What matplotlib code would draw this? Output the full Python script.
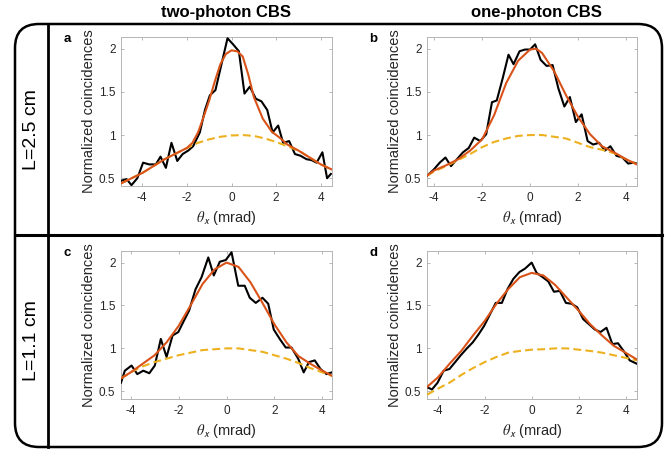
import matplotlib
matplotlib.use("Agg")
import matplotlib.pyplot as plt
from matplotlib.patches import FancyBboxPatch

plt.rcParams['font.family'] = ['Liberation Sans', 'DejaVu Sans']
plt.rcParams['mathtext.fontset'] = 'stix'

# colours (MATLAB default order)
BLACK = 'black'
ORANGE = '#D95319'
YELLOW = '#EDB120'

# ---- panel a: two-photon CBS, L=2.5 cm ----
x_a = [-4.95, -4.70, -4.48, -4.22, -3.96, -3.69, -3.39, -3.18, -2.94, -2.69,
       -2.43, -2.19, -1.94, -1.72, -1.42, -1.19, -0.97, -0.72, -0.45, -0.18,
       0.07, 0.33, 0.58, 0.82, 1.09, 1.34, 1.60, 1.84, 2.09, 2.31,
       2.58, 2.84, 3.09, 3.36, 3.58, 3.81, 4.07, 4.28, 4.45]
y_a = [0.47, 0.49, 0.42, 0.50, 0.68, 0.66, 0.66, 0.75, 0.62, 0.91,
       0.70, 0.78, 0.82, 0.87, 1.03, 1.29, 1.46, 1.52, 1.82, 2.12,
       2.05, 1.97, 1.48, 1.56, 1.42, 1.39, 1.29, 1.03, 1.11, 0.91,
       0.93, 0.78, 0.76, 0.72, 0.71, 0.68, 0.80, 0.50, 0.55]
fx_a = [-4.95, -4.0, -3.0, -2.0, -1.75, -1.5, -1.25, -1.0, -0.75, -0.5, -0.25,
        0.0, 0.25, 0.5, 0.75, 1.0, 1.4, 1.8, 2.2, 2.5, 3.0, 3.5, 4.0, 4.5]
fit_a = [0.44, 0.56, 0.72, 0.85, 0.91, 1.03, 1.21, 1.40, 1.62, 1.82, 1.94,
         1.98, 1.97, 1.91, 1.70, 1.44, 1.19, 1.04, 0.96, 0.89, 0.82, 0.74, 0.66, 0.60]
bx_a = [-4.95, -4.0, -3.0, -2.0, -1.5, -1.0, -0.5, 0.0, 0.5, 1.0, 1.5, 2.0,
        2.5, 3.0, 3.5, 4.0, 4.5]
bg_a = [0.44, 0.56, 0.72, 0.85, 0.91, 0.95, 0.98, 0.995, 1.0, 0.99, 0.96, 0.92,
        0.87, 0.82, 0.74, 0.66, 0.60]

# ---- panel b: one-photon CBS, L=2.5 cm ----
x_b = [-4.29, -4.02, -3.77, -3.53, -3.30, -3.05, -2.80, -2.56, -2.33, -2.08,
       -1.83, -1.59, -1.39, -1.14, -0.90, -0.69, -0.44, -0.21, 0.00, 0.21,
       0.44, 0.69, 0.94, 1.18, 1.43, 1.66, 1.91, 2.15, 2.40, 2.63,
       2.88, 3.12, 3.35, 3.60, 3.85, 4.09, 4.32, 4.46]
y_b = [0.53, 0.60, 0.68, 0.74, 0.64, 0.72, 0.80, 0.85, 0.97, 0.93,
       1.01, 1.38, 1.40, 1.66, 1.93, 1.82, 1.97, 1.99, 1.99, 2.05,
       1.87, 1.80, 1.81, 1.54, 1.33, 1.44, 1.15, 1.24, 0.93, 0.89,
       0.91, 0.82, 0.87, 0.76, 0.74, 0.67, 0.68, 0.67]
fx_b = [-4.3, -4.0, -3.5, -3.0, -2.5, -2.0, -1.5, -1.0, -0.5, 0.0, 0.25, 0.5,
        1.0, 1.5, 2.0, 2.5, 3.0, 3.5, 4.0, 4.46]
fit_b = [0.53, 0.59, 0.65, 0.72, 0.82, 0.95, 1.23, 1.60, 1.86, 1.99, 2.00, 1.95,
         1.74, 1.46, 1.21, 1.01, 0.87, 0.80, 0.72, 0.66]
bx_b = [-4.3, -4.0, -3.5, -3.0, -2.5, -2.0, -1.5, -1.0, -0.5, 0.0, 0.5, 1.0,
        1.5, 2.0, 2.5, 3.0, 3.5, 4.0, 4.46]
bg_b = [0.53, 0.58, 0.64, 0.71, 0.78, 0.86, 0.92, 0.96, 0.99, 1.0, 1.0, 0.98,
        0.96, 0.91, 0.86, 0.83, 0.79, 0.72, 0.66]

# ---- panel c: two-photon CBS, L=1.1 cm ----
x_c = [-4.40, -4.24, -3.96, -3.72, -3.47, -3.22, -2.99, -2.74, -2.50, -2.25,
       -2.01, -1.78, -1.56, -1.29, -1.04, -0.76, -0.53, -0.28, -0.03, 0.21,
       0.49, 0.76, 0.97, 1.22, 1.50, 1.74, 1.97, 2.22, 2.47, 2.71,
       2.99, 3.22, 3.44, 3.68, 3.92, 4.17, 4.39]
y_c = [0.60, 0.74, 0.80, 0.70, 0.74, 0.71, 0.80, 1.11, 0.90, 1.15,
       1.19, 1.32, 1.44, 1.69, 1.83, 2.06, 1.85, 2.01, 2.03, 2.12,
       1.73, 1.73, 1.59, 1.53, 1.59, 1.52, 1.22, 1.11, 1.01, 1.01,
       0.88, 0.72, 0.84, 0.86, 0.76, 0.70, 0.72]
fx_c = [-4.4, -4.0, -3.5, -3.0, -2.5, -2.0, -1.5, -1.0, -0.5, 0.0, 0.5, 1.0,
        1.5, 2.0, 2.5, 3.0, 3.5, 4.0, 4.4]
fit_c = [0.65, 0.72, 0.82, 0.92, 1.07, 1.26, 1.50, 1.75, 1.92, 2.00, 1.95, 1.77,
         1.53, 1.28, 1.07, 0.91, 0.82, 0.74, 0.68]
bx_c = fx_c
bg_c = [0.65, 0.72, 0.79, 0.84, 0.88, 0.92, 0.95, 0.98, 0.99, 1.0, 1.0, 0.98,
        0.96, 0.92, 0.88, 0.83, 0.77, 0.72, 0.68]

# ---- panel d: one-photon CBS, L=1.1 cm ----
x_d = [-4.46, -4.25, -4.01, -3.75, -3.50, -3.26, -3.02, -2.76, -2.51, -2.27,
       -2.03, -1.77, -1.53, -1.27, -1.03, -0.78, -0.52, -0.28, 0.00, 0.21,
       0.47, 0.71, 0.95, 1.20, 1.46, 1.70, 1.94, 2.20, 2.45, 2.69,
       2.93, 3.19, 3.44, 3.68, 3.92, 4.18, 4.49]
y_d = [0.55, 0.52, 0.60, 0.74, 0.76, 0.84, 0.92, 1.00, 1.07, 1.16,
       1.26, 1.40, 1.53, 1.53, 1.69, 1.81, 1.89, 1.93, 2.00, 1.88,
       1.83, 1.78, 1.66, 1.67, 1.53, 1.52, 1.48, 1.34, 1.28, 1.22,
       1.19, 1.24, 1.05, 1.06, 0.97, 0.86, 0.82]
fx_d = [-4.46, -4.0, -3.5, -3.0, -2.5, -2.0, -1.5, -1.0, -0.5, 0.0, 0.5, 1.0,
        1.5, 2.0, 2.5, 3.0, 3.5, 4.0, 4.49]
fit_d = [0.55, 0.66, 0.82, 0.97, 1.15, 1.32, 1.52, 1.69, 1.83, 1.88, 1.85, 1.74,
         1.59, 1.44, 1.28, 1.15, 1.03, 0.95, 0.87]
bx_d = [-4.46, -4.0, -3.5, -3.0, -2.5, -2.0, -1.5, -1.0, -0.5, 0.0, 0.5, 1.0,
        1.5, 2.0, 2.5, 3.0, 3.5, 4.0, 4.49]
bg_d = [0.46, 0.53, 0.60, 0.69, 0.77, 0.84, 0.90, 0.95, 0.97, 0.985, 0.99, 1.0,
        1.0, 0.985, 0.97, 0.95, 0.92, 0.89, 0.86]

xlims = {'a': (-4.95, 4.5), 'b': (-4.3, 4.46), 'c': (-4.4, 4.4), 'd': (-4.46, 4.49)}
x_ticks = [-4, -2, 0, 2, 4]
y_ticks = [0.5, 1, 1.5, 2]
y_ticklabels = ['0.5', '1', '1.5', '2']
col_titles = ['two-photon CBS', 'one-photon CBS']
row_titles = ['L=2.5 cm', 'L=1.1 cm']

panels = {
    'a': (x_a, y_a, fx_a, fit_a, bx_a, bg_a),
    'b': (x_b, y_b, fx_b, fit_b, bx_b, bg_b),
    'c': (x_c, y_c, fx_c, fit_c, bx_c, bg_c),
    'd': (x_d, y_d, fx_d, fit_d, bx_d, bg_d),
}

W, H = 672, 451
fig = plt.figure(figsize=(W / 100, H / 100), dpi=100)

# frame drawn in pixel coordinates
bg = fig.add_axes([0, 0, 1, 1], zorder=-1)
bg.set_xlim(0, W)
bg.set_ylim(H, 0)
bg.axis('off')
bg.add_patch(FancyBboxPatch((15, 24), 647, 423,
                            boxstyle='round,pad=0,rounding_size=24',
                            fc='none', ec='black', lw=1.8))
bg.plot([48, 48], [24, 447], color='black', lw=2.0)
bg.plot([15, 662], [235, 235], color='black', lw=2.2)

# axes boxes in pixels: left, top, right, bottom
boxes = {'a': (121, 37, 332, 186), 'b': (427, 37, 637, 186),
         'c': (121, 251, 332, 399), 'd': (427, 251, 637, 399)}

GREY = '#262626'
for key, (l, t, r, b) in boxes.items():
    ax = fig.add_axes([l / W, 1 - b / H, (r - l) / W, (b - t) / H])
    xs, ys, fx, fit, bx, bgv = panels[key]
    ax.plot(xs, ys, color=BLACK, lw=1.5, zorder=3)
    ax.plot(bx, bgv, color=YELLOW, lw=1.5, ls=(0, (3.8, 2)), zorder=4)
    ax.plot(fx, fit, color=ORANGE, lw=1.5, zorder=5)
    ax.set_xlim(*xlims[key])
    ax.set_ylim(0.41, 2.135)
    ax.set_xticks(x_ticks)
    ax.set_xticklabels([str(v) for v in x_ticks])
    ax.set_yticks(y_ticks)
    ax.set_yticklabels(y_ticklabels)
    ax.tick_params(direction='in', length=2.5, width=0.5, color='#9a9a9a',
                   labelsize=8.5, labelcolor=GREY, top=True, right=True, pad=4)
    for s in ax.spines.values():
        s.set_color('#b5b5b5')
        s.set_linewidth(0.7)
    ax.set_ylabel('Normalized coincidences', fontsize=10.5, color=GREY, labelpad=2)
    ax.set_xlabel(r'$\theta_{\mathsf{x}}$ (mrad)', fontsize=10.5, color=GREY, labelpad=4)
    fig.text((l - 54) / W, 1 - (t + 2) / H, key, fontsize=9.5, fontweight='bold',
             ha='center', va='center')

# column and row titles
fig.text(226 / W, 1 - 12 / H, col_titles[0], fontsize=12, fontweight='bold',
         ha='center', va='center')
fig.text(536 / W, 1 - 12 / H, col_titles[1], fontsize=12, fontweight='bold',
         ha='center', va='center')
fig.text(31 / W, 1 - 130 / H, row_titles[0], fontsize=14, rotation=90,
         ha='center', va='center')
fig.text(31 / W, 1 - 341 / H, row_titles[1], fontsize=14, rotation=90,
         ha='center', va='center')

fig.savefig('out.png', dpi=100)
